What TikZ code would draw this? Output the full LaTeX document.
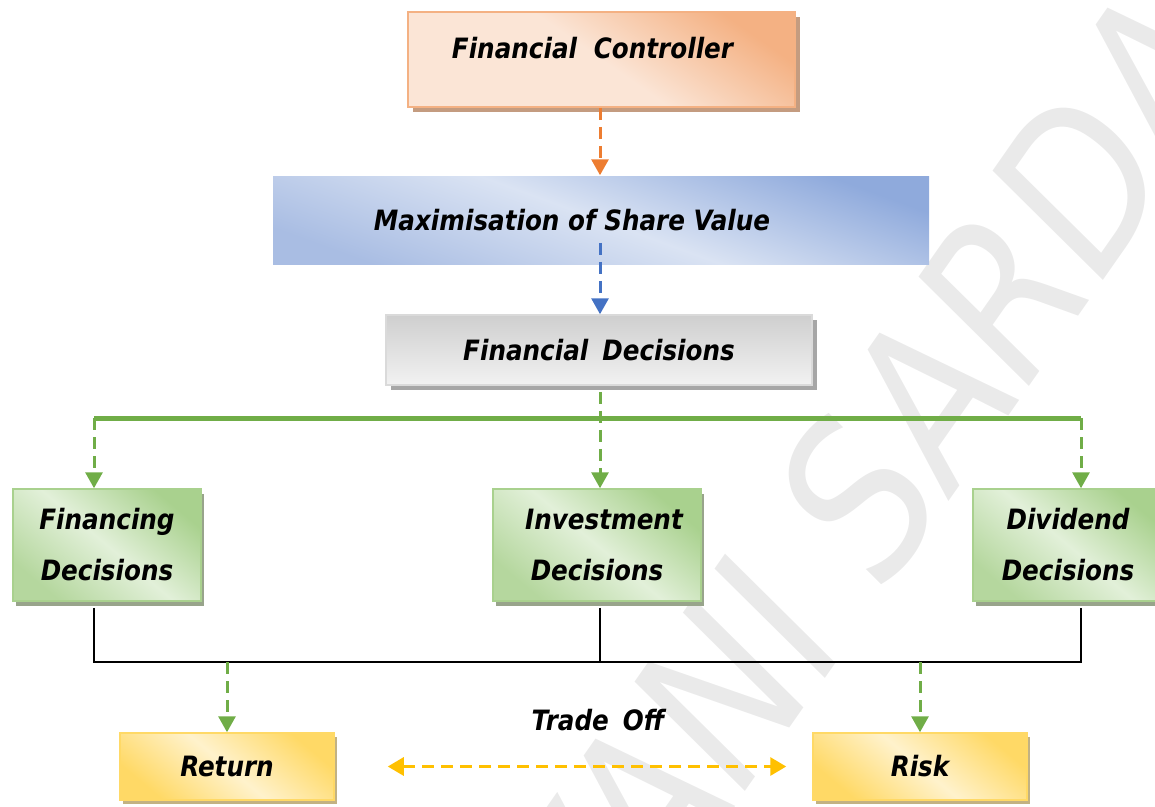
\documentclass[tikz,border=0pt]{standalone}
\usepackage{fontspec}
\setmainfont{DejaVu Sans}[FakeStretch=0.88]
\usetikzlibrary{arrows.meta,shadows}
\definecolor{orBorder}{HTML}{F4B183}
\definecolor{orDark}{HTML}{F4B183}
\definecolor{orLight}{HTML}{FBE5D6}
\definecolor{orShadow}{HTML}{C49C80}
\definecolor{orArrow}{HTML}{ED7D31}
\definecolor{blDark}{HTML}{8FAADC}
\definecolor{blLight}{HTML}{DAE3F3}
\definecolor{blMid}{HTML}{A9BDE3}
\definecolor{blArrow}{HTML}{4472C4}
\definecolor{gyDark}{HTML}{CFCFCF}
\definecolor{gyLight}{HTML}{F2F2F2}
\definecolor{gyBorder}{HTML}{DADADA}
\definecolor{gyShadow}{HTML}{A6A6A6}
\definecolor{grDark}{HTML}{A9D18E}
\definecolor{grLight}{HTML}{E2F0D9}
\definecolor{grMid}{HTML}{B5D79E}
\definecolor{grShadow}{HTML}{98A48B}
\definecolor{grLine}{HTML}{70AD47}
\definecolor{yeDark}{HTML}{FFD966}
\definecolor{yeLight}{HTML}{FFF2CC}
\definecolor{yeShadow}{HTML}{C2B283}
\definecolor{yeArrow}{HTML}{FFC000}
\definecolor{wmGrey}{HTML}{EAEAEA}
\tikzset{
  boxbase/.style={line width=1.5pt, inner sep=0pt, align=center,
    font=\bfseries\itshape\fontsize{28}{51}\selectfont},
  ctrlbox/.style={boxbase, draw=orBorder, top color=orDark, bottom color=orLight,
    middle color=orLight, shading angle=-35,
    general shadow={fill=orShadow, shadow xshift=5pt, shadow yshift=-5pt}},
  maxbox/.style={boxbase, top color=blDark, bottom color=blMid, middle color=blLight,
    shading angle=-20},
  fdbox/.style={boxbase, draw=gyBorder, top color=gyDark, bottom color=gyLight,
    general shadow={fill=gyShadow, shadow xshift=5pt, shadow yshift=-5pt}},
  decbox/.style={boxbase, draw=grDark, top color=grDark, bottom color=grMid, middle color=grLight,
    shading angle=-40, general shadow={fill=grShadow, shadow xshift=3pt, shadow yshift=-5pt}},
  resbox/.style={boxbase, draw=yeDark, top color=yeDark, bottom color=yeDark, middle color=yeLight,
    shading angle=-40, general shadow={fill=yeShadow, shadow xshift=3pt, shadow yshift=-4pt}},
  dasharrow/.style={line width=3pt, dash pattern=on 12pt off 7pt,
    -{Triangle[width=17pt,length=16pt]}},
  blackline/.style={line width=1.6pt, black},
  labeltext/.style={font=\bfseries\itshape\fontsize{28}{34}\selectfont},
  watermark/.style={text=wmGrey, font=\itshape\fontsize{210}{210}\selectfont, rotate=55}
}
\begin{document}
\begin{tikzpicture}[x=1pt,y=-1pt]
\useasboundingbox (0,0) rectangle (1155,806);
\begin{scope}
  \clip (0,0) rectangle (1155,806);
  \node[watermark] (wm) at (778,612) {SHIVANI SARDA};
\end{scope}

% boxes
\node[ctrlbox, minimum width=387pt, minimum height=95pt, text depth=24pt] (ctrl) at (601.5,59.5) {Financial\hspace{0.6em}Controller\hspace{18pt}};
\node[maxbox, minimum width=656pt, minimum height=88pt] (max) at (601,220) {Maximisation of Share Value\hspace{58pt}};
\node[fdbox, minimum width=426pt, minimum height=70pt] (fd) at (599,350) {Financial\hspace{0.5em}Decisions};
\node[decbox, minimum width=188pt, minimum height=112pt] (fin) at (107,545) {Financing\\Decisions};
\node[decbox, minimum width=208pt, minimum height=112pt] (inv) at (597,545) {\hspace{14pt}Investment\\Decisions};
\node[decbox, minimum width=190pt, minimum height=112pt] (div) at (1068,545) {Dividend\\Decisions};
\node[resbox, minimum width=214pt, minimum height=67pt] (ret) at (227,766.5) {Return};
\node[resbox, minimum width=214pt, minimum height=67pt] (risk) at (920,766.5) {Risk};
\node[labeltext] (trade) at (598,720) {Trade\hspace{0.5em}Off};

% coordinates
\coordinate (bl) at (94,418);
\coordinate (br) at (1081,418);
\coordinate (hl) at (94,662);
\coordinate (hr) at (1081,662);

% top arrows
\draw[dasharrow, orArrow] (ctrl.south -| 600,0) -- (max.north -| 600,0);
\draw[dasharrow, blArrow] ([yshift=22pt]max.south -| 600,0) -- (fd.north -| 600,0);

% green distribution
\draw[line width=5pt, grLine] (bl) -- (br);
\draw[dasharrow, grLine] ([yshift=-6pt]fd.south -| 600,0) -- (inv.north -| 600,0);
\draw[dasharrow, grLine] (bl) -- (bl |- fin.north);
\draw[dasharrow, grLine] (br) -- (br |- div.north);

% black collectors
\draw[blackline] ([yshift=-6pt]fin.south -| hl) -- (hl) -- (hr) -- ([yshift=-6pt]div.south -| hr);
\draw[blackline] ([yshift=-6pt]inv.south -| 600,0) -- (hl -| 600,0);

% to return / risk
\draw[dasharrow, grLine] (ret.north |- hl) -- (ret.north);
\draw[dasharrow, grLine] (risk.north |- hl) -- (risk.north);

% trade off
\draw[line width=3pt, yeArrow, dash pattern=on 12pt off 7pt,
  {Triangle[width=18pt,length=16pt]}-{Triangle[width=18pt,length=16pt]}]
  ([xshift=53pt]ret.east) -- ([xshift=-26pt]risk.west);
\end{tikzpicture}
\end{document}
